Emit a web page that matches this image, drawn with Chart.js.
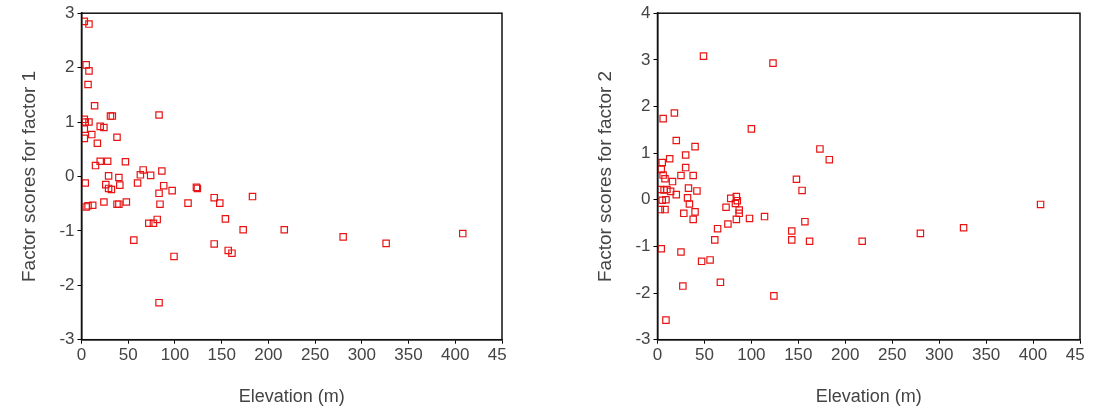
<!DOCTYPE html>
<html lang="en">
<head>
    <meta charset="UTF-8">
    <title>Factor scores vs elevation</title>
    <script src="https://cdn.jsdelivr.net/npm/chart.js"></script>
    <style>
        body {
            margin: 0;
            background-color: #fff;
        }
        .wrap {
            position: absolute;
            top: 0;
            height: 406px;
            overflow: hidden;
        }
        #wrapLeft { left: 0; width: 506px; }
        #wrapRight { left: 576px; width: 508px; }
    </style>
</head>
<body>
    <div class="wrap" id="wrapLeft"><canvas id="factor1Chart" width="540" height="406"></canvas></div>
    <div class="wrap" id="wrapRight"><canvas id="factor2Chart" width="540" height="406"></canvas></div>

    <script>
        // elevation (m) and factor 1 score, one value per site
        const elev1 = [3, 8, 5, 8, 7, 14, 31, 33, 83, 3, 4, 8, 3, 20, 24, 11, 3, 38, 17, 15,
                       20, 28, 47, 66, 86, 63, 74, 29, 40, 4, 60, 26, 41, 88, 123, 124, 29, 32, 83, 97,
                       142, 183, 24, 38, 40, 48, 5, 7, 12, 84, 114, 148, 154, 173, 72, 77, 81, 56, 142, 157,
                       161, 99, 83, 217, 280, 326, 408];
        const score1 = [2.85, 2.80, 2.05, 1.94, 1.69, 1.30, 1.11, 1.11, 1.13, 1.05, 1.00, 1.00, 0.87, 0.92, 0.90, 0.77, 0.70, 0.72, 0.61, 0.20,
                        0.28, 0.28, 0.27, 0.12, 0.10, 0.03, 0.02, 0.01, -0.02, -0.12, -0.12, -0.15, -0.16, -0.17, -0.20, -0.22, -0.22, -0.24, -0.31, -0.26,
                        -0.39, -0.37, -0.47, -0.51, -0.51, -0.47, -0.56, -0.54, -0.53, -0.51, -0.49, -0.49, -0.78, -0.98, -0.86, -0.86, -0.79, -1.17, -1.24, -1.36,
                        -1.41, -1.47, -2.32, -0.98, -1.11, -1.23, -1.05];

        // elevation (m) and factor 2 score
        const elev2 = [49, 123, 6, 18, 100, 20, 40, 173, 183, 5, 13, 30, 4, 30, 6, 8, 25, 38, 16, 148,
                       154, 33, 42, 3, 7, 10, 14, 20, 5, 9, 32, 3, 8, 34, 28, 40, 38, 78, 84, 85,
                       73, 83, 87, 87, 84, 98, 75, 64, 61, 4, 25, 47, 56, 27, 67, 9, 114, 143, 143, 157,
                       162, 218, 124, 280, 326, 408];
        const score2 = [3.08, 2.93, 1.74, 1.86, 1.52, 1.27, 1.14, 1.09, 0.86, 0.80, 0.88, 0.96, 0.65, 0.69, 0.53, 0.45, 0.52, 0.52, 0.39, 0.44,
                        0.20, 0.25, 0.19, 0.22, 0.21, 0.22, 0.18, 0.11, -0.01, 0.00, 0.04, -0.21, -0.21, -0.09, -0.29, -0.26, -0.42, 0.03, 0.07, -0.02,
                        -0.16, -0.08, -0.22, -0.29, -0.42, -0.40, -0.52, -0.62, -0.86, -1.05, -1.12, -1.32, -1.29, -1.85, -1.77, -2.58, -0.36, -0.67, -0.86, -0.47,
                        -0.89, -0.89, -2.06, -0.72, -0.60, -0.10];

        const xRange = [0, 450];
        const yRange1 = [-3, 3];
        const yRange2 = [-3, 4];

        const tickFont = { family: "'Liberation Sans Narrow', 'Liberation Sans', Arial, sans-serif", size: 17 };
        const titleFont = "'Liberation Sans', Arial, sans-serif";

        // box round the plot area
        const frame = {
            id: 'frame',
            afterDraw(chart) {
                const a = chart.chartArea;
                const ctx = chart.ctx;
                ctx.save();
                ctx.strokeStyle = '#111';
                ctx.lineWidth = 1.5;
                ctx.strokeRect(a.left, a.top, a.right - a.left, a.bottom - a.top);
                ctx.restore();
            }
        };

        function makeChart(id, xs, ys, yRange, yTitle, padTop, padRight) {
            const points = xs.map((x, i) => ({ x: x, y: ys[i] }));
            return new Chart(document.getElementById(id), {
                type: 'scatter',
                data: {
                    datasets: [{
                        data: points,
                        pointStyle: 'rect',
                        pointRadius: 4.5,
                        borderWidth: 1.2,
                        borderColor: 'rgb(232, 20, 20)',
                        backgroundColor: 'rgba(0,0,0,0)'
                    }]
                },
                options: {
                    responsive: false,
                    animation: false,
                    layout: { padding: { top: padTop, right: padRight, bottom: 0, left: 0 } },
                    plugins: { legend: { display: false }, tooltip: { enabled: false } },
                    scales: {
                        x: {
                            type: 'linear',
                            min: xRange[0],
                            max: xRange[1],
                            afterFit: s => { s.height = 406 - (406 - 66.3); },
                            ticks: { stepSize: 50, color: '#444', font: tickFont, padding: 1, maxRotation: 0, autoSkip: false },
                            grid: { drawOnChartArea: false, tickLength: 4, color: '#000' },
                            border: { color: '#111', width: 1.5 },
                            title: { display: true, text: 'Elevation (m)', color: '#444', font: { family: titleFont, size: 18, lineHeight: 1 }, padding: 0 }
                        },
                        y: {
                            min: yRange[0],
                            max: yRange[1],
                            afterFit: s => { s.width = 81.5; },
                            ticks: { stepSize: 1, color: '#444', font: tickFont, padding: 3 },
                            grid: { drawOnChartArea: false, tickLength: 4, color: '#000' },
                            border: { color: '#111', width: 1.5 },
                            title: { display: true, text: yTitle, color: '#444', font: { family: titleFont, size: 19 }, padding: { top: 18.6, bottom: 0 } }
                        }
                    }
                },
                plugins: [frame]
            });
        }

        makeChart('factor1Chart', elev1, score1, yRange1, 'Factor scores for factor 1', 12.5, 38);
        makeChart('factor2Chart', elev2, score2, yRange2, 'Factor scores for factor 2', 12.7, 36);
    </script>
</body>
</html>
